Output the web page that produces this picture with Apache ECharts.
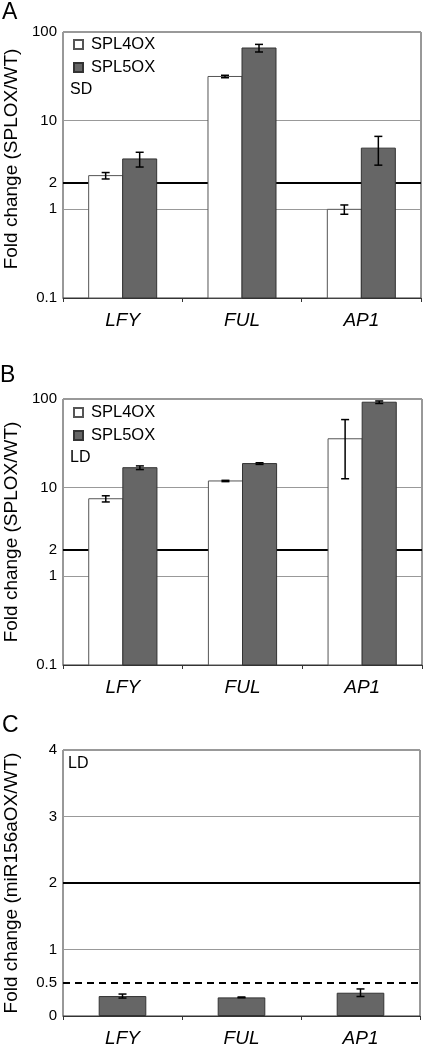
<!DOCTYPE html>
<html><head><meta charset="utf-8">
<script src="https://cdn.jsdelivr.net/npm/echarts@6/dist/echarts.min.js"></script>
<style>html,body{margin:0;padding:0;background:#fff}#c{width:424px;height:1048px}</style>
</head><body><div id="c"></div>
<script>
const genes = ['LFY', 'FUL', 'AP1'];
// Panel A (SD)
const sdSpl4 = [2.4, 31.5, 1.0];
const sdSpl4Err = [0.2, 1.0, 0.12];
const sdSpl5 = [3.7, 66, 4.9];
const sdSpl5Err = [0.7, 6.5, 1.75];
// Panel B (LD)
const ldSpl4 = [7.5, 11.9, 35.6];
const ldSpl4Err = [0.6, 0.2, 23];
const ldSpl5 = [16.8, 18.7, 92];
const ldSpl5Err = [0.8, 0.4, 3];
// Panel C (miR156aOX, LD)
const mirVals = [0.30, 0.28, 0.35];
const mirErr = [0.03, 0.006, 0.057];
const seriesNames = ['SPL4OX', 'SPL5OX'];
const panelLetters = ['A', 'B', 'C'];
const conditions = ['SD', 'LD', 'LD'];
const yNames = ['Fold change (SPLOX/WT)', 'Fold change (SPLOX/WT)', 'Fold change (miR156aOX/WT)'];
const logMin = 0.1, logMax = 100;

const FONT = 'Liberation Sans, Arial, Helvetica, sans-serif';
const DARK = '#666666';
const BAR_W = 0.285;

function pairs(vals) { return vals.map((v, i) => [i, v]); }
function errData(vals, errs) { return vals.map((v, i) => [i, v, errs[i]]); }
function errRender(frac) {
  return function (params, api) {
    const x = api.value(0), v = api.value(1), e = api.value(2);
    const hi = api.coord([x, v + e]);
    const lo = api.coord([x, v - e]);
    const bw = api.size([1, 0])[0];
    const cx = hi[0] + bw * frac;
    const cap = 4;
    const st = { stroke: '#000', lineWidth: 1.5 };
    return { type: 'group', children: [
      { type: 'line', shape: { x1: cx, y1: hi[1], x2: cx, y2: lo[1] }, style: st },
      { type: 'line', shape: { x1: cx - cap, y1: hi[1], x2: cx + cap, y2: hi[1] }, style: st },
      { type: 'line', shape: { x1: cx - cap, y1: lo[1], x2: cx + cap, y2: lo[1] }, style: st }
    ] };
  };
}
function barRender(frac, fill, stroke) {
  return function (params, api) {
    const x = api.value(0), v = api.value(1);
    const top = api.coord([x, v]);
    const base = api.coord([x, logMin]);
    const bw = api.size([1, 0])[0];
    const w = bw * BAR_W;
    const cx = top[0] + bw * frac;
    return { type: 'rect', shape: { x: cx - w / 2, y: top[1], width: w, height: base[1] - top[1] },
      style: { fill: fill, stroke: stroke, lineWidth: 1 } };
  };
}

const grids = [
  { left: 63, top: 32, width: 358, height: 266 },
  { left: 63, top: 399, width: 359, height: 266 },
  { left: 63, top: 750, width: 357, height: 266 }
].map(g => Object.assign({ show: true, borderColor: '#333', borderWidth: 1, backgroundColor: 'transparent', containLabel: false, outerBoundsMode: 'none' }, g));

const xAxes = grids.map((g, i) => ({
  type: 'category', gridIndex: i, data: genes,
  axisLine: { show: true, lineStyle: { color: '#333', width: 1 } },
  axisTick: { show: true, length: 4, lineStyle: { color: '#333' } },
  axisLabel: { fontFamily: FONT, fontSize: 19, fontStyle: 'italic', color: '#000', margin: 13 }
}));

const yCommon = (i) => ({
  gridIndex: i,
  name: yNames[i], nameLocation: 'middle', nameGap: 42, nameRotate: 90,
  nameTextStyle: { fontFamily: FONT, fontSize: 19, color: '#000', padding: i === 0 ? [0, 0, 0, 12] : 0 },
  axisLine: { show: false }, axisTick: { show: false },
  axisLabel: { fontFamily: FONT, fontSize: 15, color: '#000', margin: 6 },
  splitLine: { show: true, lineStyle: { color: '#999', width: 1 } }
});
const yAxes = [
  Object.assign(yCommon(0), { type: 'log', logBase: 10, min: logMin, max: logMax }),
  Object.assign(yCommon(1), { type: 'log', logBase: 10, min: logMin, max: logMax }),
  Object.assign(yCommon(2), { type: 'value', min: 0, max: 4, interval: 1 })
];

const twoLine = {
  silent: true, symbol: 'none', z: 1,
  label: { show: true, position: 'start', formatter: '2', color: '#000', fontFamily: FONT, fontSize: 15, distance: 6 },
  lineStyle: { color: '#000', width: 2, type: 'solid' },
  data: [{ yAxis: 2 }]
};

const series = [];
[[sdSpl4, sdSpl4Err, sdSpl5, sdSpl5Err], [ldSpl4, ldSpl4Err, ldSpl5, ldSpl5Err]].forEach((p, i) => {
  series.push({
    name: seriesNames[0], type: 'custom', xAxisIndex: i, yAxisIndex: i, data: pairs(p[0]), z: 2,
    encode: { x: 0, y: 1 },
    itemStyle: { color: '#fff', borderColor: '#555', borderWidth: 1 },
    renderItem: barRender(-BAR_W / 2, '#fff', '#555'),
    markLine: twoLine
  });
  series.push({
    name: seriesNames[1], type: 'custom', xAxisIndex: i, yAxisIndex: i, data: pairs(p[2]), z: 2,
    encode: { x: 0, y: 1 },
    itemStyle: { color: DARK, borderColor: '#333', borderWidth: 1 },
    renderItem: barRender(BAR_W / 2, DARK, '#333')
  });
  series.push({ type: 'custom', xAxisIndex: i, yAxisIndex: i, z: 3, data: errData(p[0], p[1]), encode: { x: 0, y: 1 }, renderItem: errRender(-BAR_W / 2) });
  series.push({ type: 'custom', xAxisIndex: i, yAxisIndex: i, z: 3, data: errData(p[2], p[3]), encode: { x: 0, y: 1 }, renderItem: errRender(BAR_W / 2) });
});
series.push({
  name: 'miR156aOX', type: 'bar', xAxisIndex: 2, yAxisIndex: 2, data: mirVals, barWidth: '40%', z: 2,
  itemStyle: { color: DARK, borderColor: '#333', borderWidth: 1 },
  markLine: {
    silent: true, symbol: 'none', z: 1,
    data: [
      { yAxis: 2, lineStyle: { color: '#000', width: 2, type: 'solid' }, label: { show: false } },
      { yAxis: 0.5, lineStyle: { color: '#000', width: 2, type: [7, 5] },
        label: { show: true, position: 'start', formatter: '0.5', color: '#000', fontFamily: FONT, fontSize: 15, distance: 6 } }
    ]
  }
});
series.push({ type: 'custom', xAxisIndex: 2, yAxisIndex: 2, z: 3, data: errData(mirVals, mirErr), encode: { x: 0, y: 1 }, renderItem: errRender(0) });

const titlePos = [
  { left: 2, top: 1 }, { left: 0, top: 364 }, { left: 2, top: 714 }
];
const condPos = [
  { left: 70, top: 82 }, { left: 70, top: 450 }, { left: 68, top: 756 }
];
const titles = [];
panelLetters.forEach((t, i) => titles.push(Object.assign({ text: t, padding: 0, textStyle: { fontFamily: FONT, fontSize: 23, fontWeight: 'normal', color: '#000' } }, titlePos[i])));
conditions.forEach((t, i) => titles.push(Object.assign({ text: t, padding: 0, textStyle: { fontFamily: FONT, fontSize: 16, fontWeight: 'normal', color: '#000' } }, condPos[i])));

const legendCommon = {
  orient: 'vertical', left: 73, padding: 0, itemWidth: 9, itemHeight: 9, itemGap: 6,
  icon: 'rect', data: seriesNames, selectedMode: false,
  textStyle: { fontFamily: FONT, fontSize: 16.5, color: '#000', padding: [0, 0, 0, 3] }
};
const legends = [
  Object.assign({}, legendCommon, { top: 36 }),
  Object.assign({}, legendCommon, { top: 404 })
];

const chart = echarts.init(document.getElementById('c'), null, { renderer: 'canvas' });
chart.setOption({
  animation: false,
  backgroundColor: '#fff',
  title: titles,
  legend: legends,
  grid: grids,
  xAxis: xAxes,
  yAxis: yAxes,
  series: series
});
</script></body></html>
